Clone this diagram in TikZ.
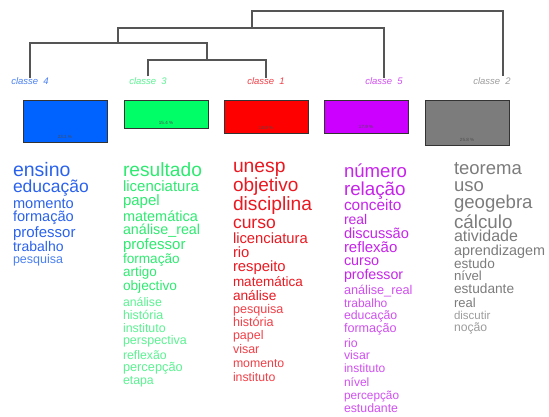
\documentclass[tikz,border=0pt]{standalone}
\usepackage{fontspec}
\setmainfont{Liberation Sans}
\definecolor{bT}{HTML}{2A62EC}
\definecolor{bL}{HTML}{4A80F2}
\definecolor{gT}{HTML}{2EEA70}
\definecolor{gL}{HTML}{5CF292}
\definecolor{rT}{HTML}{EA1820}
\definecolor{rL}{HTML}{F04048}
\definecolor{pT}{HTML}{C624EA}
\definecolor{pL}{HTML}{D050F0}
\definecolor{kT}{HTML}{7C7C7C}
\definecolor{kL}{HTML}{9C9C9C}
\definecolor{dend}{HTML}{555555}
\tikzset{
  wrd/.style={anchor=base west, inner sep=0pt, outer sep=0pt},
  cls/.style={inner sep=0pt, font=\fontsize{9.5}{9.5}\selectfont\itshape},
  bar/.style={draw=black!80, line width=0.8pt},
  pct/.style={inner sep=0pt, font=\fontsize{4.5}{4.5}\selectfont, text=black!70},
  dl/.style={draw=dend, line width=1.2pt}
}
\newcommand\fsz[1]{\fontsize{#1}{#1}\selectfont}
\begin{document}
\begin{tikzpicture}[x=1pt,y=-1pt]
\useasboundingbox (0,0) rectangle (549,417);
% class labels
\node[cls, text=bL] (c4) at (30,81) {classe\ \ 4};
\node[cls, text=gL] (c3) at (148,81) {classe\ \ 3};
\node[cls, text=rL] (c1) at (266,81) {classe\ \ 1};
\node[cls, text=pL] (c5) at (384,81) {classe\ \ 5};
\node[cls, text=kL] (c2) at (492,81) {classe\ \ 2};
% dendrogram junctions
\coordinate (j31) at (207,60);
\coordinate (j431) at (118,43);
\coordinate (j4315) at (252,28);
\coordinate (top) at (378,11);
\coordinate (c2t) at (503,76);
\draw[dl] (c3.north) ++(0,-1) |- (j31) -| ([yshift=-1pt]c1.north);
\draw[dl] ([yshift=-1pt]c4.north) |- (j431) -| (j31);
\draw[dl] (j431) |- (j4315) -| ([yshift=-1pt]c5.north);
\draw[dl] (j4315) |- (top) -| (c2t);
% boxes
\node[bar, fill={rgb,255:red,0;green,98;blue,255}, minimum width=84pt, minimum height=42pt, inner sep=0pt, anchor=north west] (B4) at (23,100) {};
\node[bar, fill={rgb,255:red,0;green,255;blue,102}, minimum width=84pt, minimum height=28pt, inner sep=0pt, anchor=north west] (B3) at (124,100) {};
\node[bar, fill={rgb,255:red,255;green,0;blue,0}, minimum width=84pt, minimum height=33pt, inner sep=0pt, anchor=north west] (B1) at (224,100) {};
\node[bar, fill={rgb,255:red,204;green,0;blue,255}, minimum width=84pt, minimum height=33pt, inner sep=0pt, anchor=north west] (B5) at (324,100) {};
\node[bar, fill={rgb,255:red,124;green,124;blue,124}, minimum width=84pt, minimum height=45pt, inner sep=0pt, anchor=north west] (B2) at (425,100) {};
\node[pct] (p4) at (65,137) {23.1 \%};
\node[pct] (p3) at (166,123) {15.4 \%};
\node[pct] (p1) at (266,128) {13.8 \%};
\node[pct] (p5) at (366,127) {17.9 \%};
\node[pct] (p2) at (467,140) {25.8 \%};
% classe 4 words
\node[wrd, text=bT, font=\fsz{19.5}] (b1) at (13,177) {ensino};
\node[wrd, text=bT, font=\fsz{17.5}] (b2) at (13,193) {educação};
\node[wrd, text=bT, font=\fsz{14.6}] (b3) at (13,208) {momento};
\node[wrd, text=bT, font=\fsz{14.6}] (b4) at (13,222) {formação};
\node[wrd, text=bT, font=\fsz{15}] (b5) at (13,237) {professor};
\node[wrd, text=bT, font=\fsz{14}] (b6) at (13,251) {trabalho};
\node[wrd, text=bL, font=\fsz{12.5}] (b7) at (13,263) {pesquisa};
% classe 3 words
\node[wrd, text=gT, font=\fsz{19.2}] (g1) at (123,177) {resultado};
\node[wrd, text=gT, font=\fsz{15}] (g2) at (123,192) {licenciatura};
\node[wrd, text=gT, font=\fsz{15}] (g3) at (123,205) {papel};
\node[wrd, text=gT, font=\fsz{14.5}] (g4) at (123,221) {matemática};
\node[wrd, text=gT, font=\fsz{14.3}] (g5) at (123,234) {análise\_real};
\node[wrd, text=gT, font=\fsz{15}] (g6) at (123,249) {professor};
\node[wrd, text=gT, font=\fsz{13.6}] (g7) at (123,263) {formação};
\node[wrd, text=gT, font=\fsz{13.5}] (g8) at (123,276) {artigo};
\node[wrd, text=gT, font=\fsz{13.7}] (g9) at (123,290) {objectivo};
\node[wrd, text=gL, font=\fsz{12.3}] (g10) at (123,306) {análise};
\node[wrd, text=gL, font=\fsz{12.5}] (g11) at (123,319) {história};
\node[wrd, text=gL, font=\fsz{12.4}] (g12) at (123,332) {instituto};
\node[wrd, text=gL, font=\fsz{12.5}] (g13) at (123,344) {perspectiva};
\node[wrd, text=gL, font=\fsz{12.3}] (g14) at (123,359) {reflexão};
\node[wrd, text=gL, font=\fsz{12.8}] (g15) at (123,371) {percepção};
\node[wrd, text=gL, font=\fsz{12.3}] (g16) at (123,384) {etapa};
% classe 1 words
\node[wrd, text=rT, font=\fsz{19.3}] (r1) at (233,173) {unesp};
\node[wrd, text=rT, font=\fsz{19}] (r2) at (233,192) {objetivo};
\node[wrd, text=rT, font=\fsz{19.2}] (r3) at (233,211) {disciplina};
\node[wrd, text=rT, font=\fsz{17.5}] (r4) at (233,228) {curso};
\node[wrd, text=rT, font=\fsz{14.8}] (r5) at (233,243) {licenciatura};
\node[wrd, text=rT, font=\fsz{14.8}] (r6) at (233,257) {rio};
\node[wrd, text=rT, font=\fsz{14.8}] (r7) at (233,271) {respeito};
\node[wrd, text=rT, font=\fsz{13.5}] (r8) at (233,286) {matemática};
\node[wrd, text=rT, font=\fsz{13.7}] (r9) at (233,300) {análise};
\node[wrd, text=rL, font=\fsz{12.6}] (r10) at (233,313) {pesquisa};
\node[wrd, text=rL, font=\fsz{12.6}] (r11) at (233,326) {história};
\node[wrd, text=rL, font=\fsz{12.5}] (r12) at (233,339) {papel};
\node[wrd, text=rL, font=\fsz{12.5}] (r13) at (233,353) {visar};
\node[wrd, text=rL, font=\fsz{12.3}] (r14) at (233,367) {momento};
\node[wrd, text=rL, font=\fsz{12.3}] (r15) at (233,381) {instituto};
% classe 5 words
\node[wrd, text=pT, font=\fsz{18.6}] (m1) at (344,178) {número};
\node[wrd, text=pT, font=\fsz{18.8}] (m2) at (344,196) {relação};
\node[wrd, text=pT, font=\fsz{15.4}] (m3) at (344,210) {conceito};
\node[wrd, text=pT, font=\fsz{14}] (m4) at (344,224) {real};
\node[wrd, text=pT, font=\fsz{14.6}] (m5) at (344,238) {discussão};
\node[wrd, text=pT, font=\fsz{15}] (m6) at (344,252) {reflexão};
\node[wrd, text=pT, font=\fsz{14.4}] (m7) at (344,265) {curso};
\node[wrd, text=pT, font=\fsz{14.2}] (m8) at (344,279) {professor};
\node[wrd, text=pL, font=\fsz{12.7}] (m9) at (344,294) {análise\_real};
\node[wrd, text=pL, font=\fsz{12}] (m10) at (344,307) {trabalho};
\node[wrd, text=pL, font=\fsz{12.3}] (m11) at (344,319) {educação};
\node[wrd, text=pL, font=\fsz{12.6}] (m12) at (344,332) {formação};
\node[wrd, text=pL, font=\fsz{12.3}] (m13) at (344,347) {rio};
\node[wrd, text=pL, font=\fsz{12.3}] (m14) at (344,359) {visar};
\node[wrd, text=pL, font=\fsz{12}] (m15) at (344,372) {instituto};
\node[wrd, text=pL, font=\fsz{12}] (m16) at (344,386) {nível};
\node[wrd, text=pL, font=\fsz{11.8}] (m17) at (344,399) {percepção};
\node[wrd, text=pL, font=\fsz{12.3}] (m18) at (344,412) {estudante};
% classe 2 words
\node[wrd, text=kT, font=\fsz{18.5}] (k1) at (454,175) {teorema};
\node[wrd, text=kT, font=\fsz{18.5}] (k2) at (454,192) {uso};
\node[wrd, text=kT, font=\fsz{18.6}] (k3) at (454,208) {geogebra};
\node[wrd, text=kT, font=\fsz{18.8}] (k4) at (454,228) {cálculo};
\node[wrd, text=kT, font=\fsz{16}] (k5) at (454,241) {atividade};
\node[wrd, text=kT, font=\fsz{14.4}] (k6) at (454,255) {aprendizagem};
\node[wrd, text=kT, font=\fsz{13.6}] (k7) at (454,268) {estudo};
\node[wrd, text=kT, font=\fsz{13.2}] (k8) at (454,280) {nível};
\node[wrd, text=kT, font=\fsz{13.7}] (k9) at (454,293) {estudante};
\node[wrd, text=kT, font=\fsz{13}] (k10) at (454,307) {real};
\node[wrd, text=kL, font=\fsz{11.5}] (k11) at (454,319) {discutir};
\node[wrd, text=kL, font=\fsz{12.2}] (k12) at (454,331) {noção};
\end{tikzpicture}
\end{document}
